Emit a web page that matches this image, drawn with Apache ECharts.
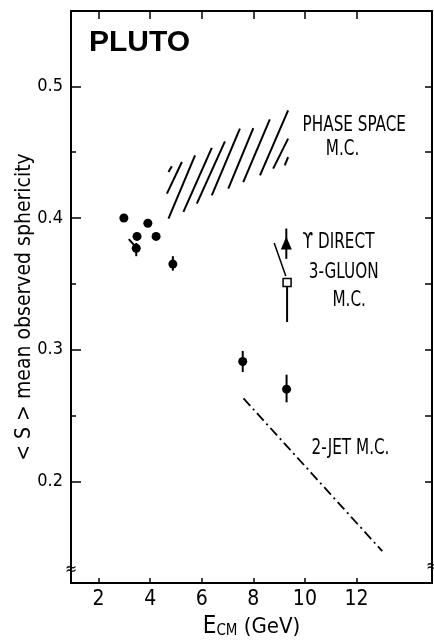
<!DOCTYPE html>
<html><head><meta charset="utf-8">
<script src="https://cdn.jsdelivr.net/npm/echarts@6/dist/echarts.min.js"></script>
<style>html,body{margin:0;padding:0;background:#fff}#c{width:434px;height:643px}</style>
</head><body><div id="c"></div>
<script>
// ---- tick values ----
const xTicks = [2, 4, 6, 8, 10, 12];
const yMajor = [0.2, 0.3, 0.4, 0.5];
const yMinor = [0.25, 0.35, 0.45];
const yAll = [0.2, 0.25, 0.3, 0.35, 0.4, 0.45, 0.5];

// ---- PLUTO data: points without visible error bars ----
const dotX = [2.98, 3.49, 3.91, 4.23];
const dotY = [0.400, 0.386, 0.396, 0.386];

// ---- points with error bars ----
const errX  = [3.46, 4.88, 7.59, 9.29];
const errY  = [0.377, 0.365, 0.291, 0.270];
const errLo = [0.371, 0.360, 0.283, 0.260];
const errHi = [0.381, 0.371, 0.299, 0.281];

// ---- Upsilon direct (triangle) ----
const upsX = [9.28];
const upsY = [0.381];
const upsLo = [0.369];
const upsHi = [0.392];

// ---- 3-gluon M.C. (open square) ----
const gluX = [9.31];
const gluY = [0.351];
const gluLo = [0.321];
const gluSlantX = [8.81, 9.26];
const gluSlantY = [0.381, 0.356];

// short tail at the 3.46 GeV point
const tailX = [3.17, 3.44];
const tailY = [0.384, 0.378];

// ---- 2-jet M.C. (dash-dot line) ----
const jetX = [7.62, 13.0];
const jetY = [0.263, 0.147];

// ---- phase space M.C. hatch strokes ----
const hatchX1 = [4.71, 4.65, 4.71, 5.29, 5.81, 6.39, 7.03, 7.61, 8.26, 8.77, 9.22];
const hatchY1 = [0.435, 0.4185, 0.3995, 0.4046, 0.4109, 0.4172, 0.4223, 0.4273, 0.4324, 0.4375, 0.4400];
const hatchX2 = [4.84, 5.23, 5.74, 6.39, 6.90, 7.48, 8.00, 8.64, 9.35, 9.35, 9.35];
const hatchY2 = [0.4393, 0.4425, 0.4476, 0.4532, 0.4582, 0.4679, 0.4683, 0.4749, 0.4818, 0.4603, 0.4463];

const COND = "'DejaVu Sans Condensed','DejaVu Sans',sans-serif";
const BLACK = '#000';

const zip = (a, b) => a.map((v, i) => [v, b[i]]);

const segRender = (params, api) => {
  const p1 = api.coord([api.value(0), api.value(1)]);
  const p2 = api.coord([api.value(2), api.value(3)]);
  return { type: 'line', shape: { x1: p1[0], y1: p1[1], x2: p2[0], y2: p2[1] },
           style: { stroke: BLACK, lineWidth: 2 } };
};
const errRender = (params, api) => {
  const p1 = api.coord([api.value(0), api.value(1)]);
  const p2 = api.coord([api.value(0), api.value(2)]);
  return { type: 'line', shape: { x1: p1[0], y1: p1[1], x2: p2[0], y2: p2[1] },
           style: { stroke: BLACK, lineWidth: 2 } };
};

const chart = echarts.init(document.getElementById('c'), null, { renderer: 'canvas' });

const xBase = { type: 'value', min: 0.93, max: 14.93, splitLine: { show: false } };
const yBase = { type: 'value', min: 0.1228, max: 0.5572, splitLine: { show: false } };

const option = {
  backgroundColor: '#fff',
  animation: false,
  title: {
    text: 'PLUTO', left: 89, top: 28, padding: 0,
    textStyle: { fontSize: 30, fontWeight: 'bold', fontFamily: 'Liberation Sans', color: BLACK }
  },
  grid: { left: 71, right: 2, top: 11, bottom: 60, outerBoundsMode: 'none', containLabel: false },
  xAxis: [
    Object.assign({}, xBase, {
      position: 'bottom',
      axisLine: { lineStyle: { color: BLACK, width: 2 } },
      axisTick: { inside: true, length: 5, customValues: xTicks, lineStyle: { color: BLACK, width: 1.5 } },
      axisLabel: { customValues: xTicks, fontSize: 21, margin: 6, color: BLACK, fontFamily: COND },
      name: '{e|E}{s|CM} (GeV)', nameLocation: 'middle', nameGap: 32, nameMoveOverlap: false,
      nameTextStyle: { fontSize: 22, color: BLACK, fontFamily: COND,
        rich: { e: { fontSize: 24, fontFamily: COND, color: BLACK },
                s: { fontSize: 15, fontFamily: COND, color: BLACK, verticalAlign: 'bottom' } } }
    }),
    Object.assign({}, xBase, {
      position: 'top',
      axisLine: { lineStyle: { color: BLACK, width: 2 } },
      axisTick: { inside: true, length: 8, customValues: xTicks, lineStyle: { color: BLACK, width: 1.5 } },
      axisLabel: { show: false }
    })
  ],
  yAxis: [
    Object.assign({}, yBase, {
      position: 'left',
      axisLine: { lineStyle: { color: BLACK, width: 2 } },
      axisTick: { inside: true, length: 10, customValues: yMajor, lineStyle: { color: BLACK, width: 1.5 } },
      axisLabel: { customValues: yMajor, fontSize: 18, margin: 8, color: BLACK, fontFamily: COND,
                   formatter: v => v.toFixed(1) },
      name: '< S > mean observed sphericity', nameLocation: 'middle', nameGap: 36, nameMoveOverlap: false,
      nameTextStyle: { fontSize: 21, color: BLACK, fontFamily: COND, padding: [0, 20, 0, 0] }
    }),
    Object.assign({}, yBase, {
      position: 'left',
      axisLine: { show: false },
      axisTick: { inside: true, length: 5, customValues: yMinor, lineStyle: { color: BLACK, width: 1.5 } },
      axisLabel: { show: false }
    }),
    Object.assign({}, yBase, {
      position: 'right',
      axisLine: { lineStyle: { color: BLACK, width: 2 } },
      axisTick: { inside: true, length: 7, customValues: yAll, lineStyle: { color: BLACK, width: 1.5 } },
      axisLabel: { show: false }
    })
  ],
  series: [
    { name: 'phase space hatch', type: 'custom', renderItem: segRender,
      encode: { x: [0, 2], y: [1, 3] },
      data: hatchX1.map((v, i) => [v, hatchY1[i], hatchX2[i], hatchY2[i]]) },
    { name: 'error bars', type: 'custom', renderItem: errRender,
      encode: { x: 0, y: [1, 2] },
      data: errX.map((v, i) => [v, errLo[i], errHi[i]])
        .concat(upsX.map((v, i) => [v, upsLo[i], upsHi[i]]))
        .concat(gluX.map((v, i) => [v, gluLo[i], gluY[i]])) },
    { name: 'gluon slant', type: 'line', data: zip(gluSlantX, gluSlantY), symbol: 'none',
      lineStyle: { color: BLACK, width: 1.5 } },
    { name: 'tail', type: 'line', data: zip(tailX, tailY), symbol: 'none',
      lineStyle: { color: BLACK, width: 2 } },
    { name: '2-jet', type: 'line', data: zip(jetX, jetY), symbol: 'none',
      lineStyle: { color: BLACK, width: 1.8, type: [10, 4, 2, 4] } },
    { name: 'dots', type: 'scatter', data: zip(dotX, dotY).concat(zip(errX, errY)),
      symbol: 'circle', symbolSize: 9, itemStyle: { color: BLACK, opacity: 1 } },
    { name: 'upsilon', type: 'scatter', data: zip(upsX, upsY),
      symbol: 'triangle', symbolSize: [11, 13], itemStyle: { color: BLACK, opacity: 1 } },
    { name: 'gluon', type: 'scatter', data: zip(gluX, gluY),
      symbol: 'rect', symbolSize: 8, itemStyle: { color: '#fff', borderColor: BLACK, borderWidth: 1.5, opacity: 1 } }
  ]
};
chart.setOption(option);

// annotation texts anchored in data coordinates (left edge, vertical middle)
const notes = [
  { t: 'PHASE SPACE', at: [9.91, 0.4704] },
  { t: 'M.C.', at: [10.81, 0.4522] },
  { t: 'ϒ DIRECT', at: [9.91, 0.3819] },
  { t: '3-GLUON', at: [10.15, 0.3588] },
  { t: 'M.C.', at: [11.07, 0.3375] },
  { t: '2-JET M.C.', at: [10.26, 0.2251] }
];
const graphics = notes.map(n => {
  const p = chart.convertToPixel({ xAxisIndex: 0, yAxisIndex: 0 }, n.at);
  return { type: 'text', x: p[0], y: p[1], scaleX: 0.77, silent: true,
    style: { text: n.t, fill: BLACK, fontSize: 22, fontFamily: COND, align: 'left', verticalAlign: 'middle' } };
});
// axis-break marks near the bottom of both vertical axes
[[0.93, 0.133], [14.93, 0.135]].forEach(v => {
  const p = chart.convertToPixel({ xAxisIndex: 0, yAxisIndex: 0 }, v);
  graphics.push({ type: 'text', x: p[0], y: p[1], silent: true,
    style: { text: '≈', fill: BLACK, fontSize: 16, fontFamily: COND, align: 'center', verticalAlign: 'middle' } });
});
chart.setOption({ graphic: graphics });
</script>
</body></html>
